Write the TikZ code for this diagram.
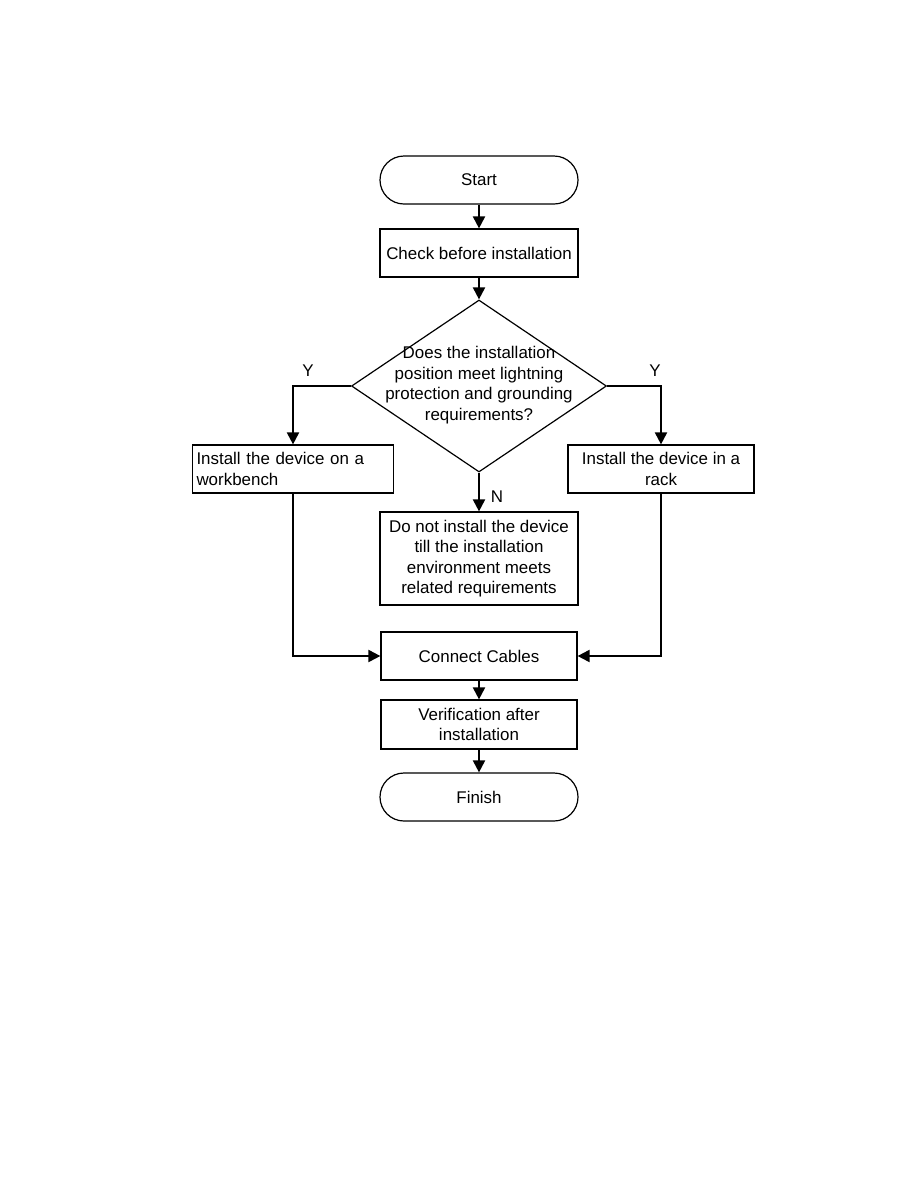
\documentclass[tikz,border=0pt]{standalone}
\usepackage{fontspec}
\setmainfont{Liberation Sans}
\usetikzlibrary{arrows.meta,shapes.geometric}
\newcommand{\flowfont}{\fontsize{17}{20.5}\selectfont}
\tikzset{
  box/.style={draw=black,line width=1.2bp,fill=white,align=center,inner sep=0pt,minimum width=198bp,minimum height=48bp,font=\flowfont},
  term/.style={box,rounded corners=24bp},
  arr/.style={-{Triangle[length=12bp,width=12bp]},line width=2bp,draw=black},
  lbl/.style={font=\flowfont,inner sep=0pt},
}
\begin{document}
\begin{tikzpicture}[x=1bp,y=1bp,
 dec/.style={draw=black,diamond,line width=1.2bp,minimum width=255bp,minimum height=172bp,inner sep=0pt}]
\useasboundingbox (0,0) rectangle (918,-1188);
% main column
\node[term] (start) at (479,-180) {Start};
\node[box] (check) at (479,-253) {Check before installation};
\node[dec] (q) at (479,-386) {};
\node[lbl,align=center] (qtxt) at (479,-385) {Does the installation\\position meet lightning\\protection and grounding\\requirements?};
\node[box,minimum width=201bp,text width=193bp,align=left] (bench) at (293,-469) {Install the device on a\\workbench};
\node[box,minimum width=186bp] (rack) at (661,-469) {Install the device in a\\rack};
\node[box,minimum height=93bp] (wait) at (479,-558.5) {Do not install the device\\till the installation\\environment meets\\related requirements};
\node[box,minimum width=196bp] (cables) at (479,-656) {Connect Cables};
\node[box,minimum width=196bp,minimum height=49bp] (verify) at (479,-724.5) {Verification after\\installation};
\node[term] (finish) at (479,-797) {Finish};
% branch labels
\node[lbl] (yleft) at (308,-371) {Y};
\node[lbl] (yright) at (655,-371) {Y};
\node[lbl] (no) at (497,-497) {N};
% connectors
\draw[arr] (start) -- (check);
\draw[arr] (check) -- (q);
\draw[arr] (q.west) -| (bench.north);
\draw[arr] (q.east) -| (rack.north);
\draw[arr] (q.south) -- (wait.north);
\draw[arr] (bench.south) |- (cables.west);
\draw[arr] (rack.south) |- (cables.east);
\draw[arr] (cables) -- (verify);
\draw[arr] (verify) -- (finish);
\end{tikzpicture}
\end{document}
